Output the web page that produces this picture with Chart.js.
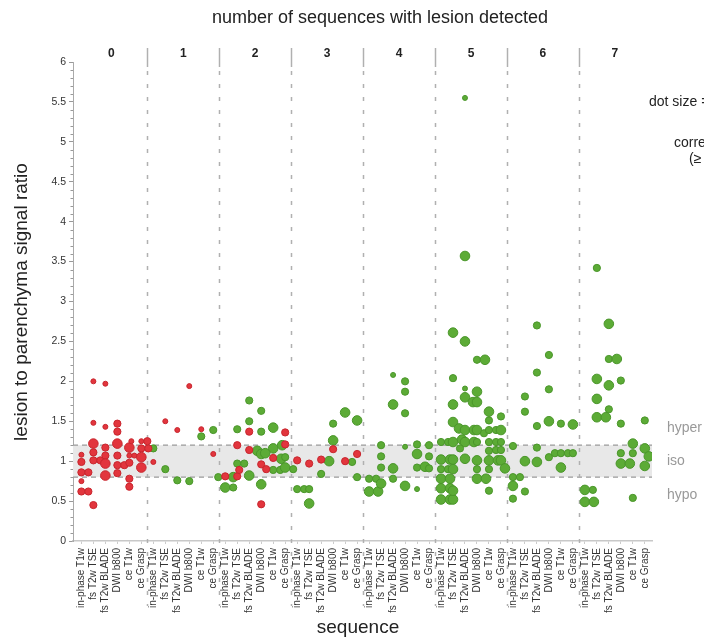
<!DOCTYPE html>
<html>
<head>
<meta charset="utf-8">
<script src="https://cdn.jsdelivr.net/npm/chart.js@4.4.1/dist/chart.umd.min.js"></script>
<style>
  html, body { margin: 0; padding: 0; background: #fff; }
  #wrap { width: 704px; height: 641px; }
</style>
</head>
<body>
<div id="wrap"><canvas id="c" width="704" height="641"></canvas></div>
<script>
// ---------- data ----------
const panels = ['0', '1', '2', '3', '4', '5', '6', '7'];
const sequences = ['in-phase T1w', 'fs T2w TSE', 'fs T2w BLADE', 'DWI b800', 'ce T1w', 'ce Grasp'];
const yTickValues = [0, 0.5, 1, 1.5, 2, 2.5, 3, 3.5, 4, 4.5, 5, 5.5, 6];
const isoBand = [0.8, 1.2];
const zoneLabels = ['hyper', 'iso', 'hypo'];
const zoneValues = [1.41, 1.0, 0.58];
const chartTitle = 'number of sequences with lesion detected';
const xTitle = 'sequence';
const yTitle = 'lesion to parenchyma signal ratio';
const legendLines = ['dot size = number of readers', 'correctly classified', '(\u2265 2 readers)'];

// [panel, sequence index, signal ratio, dot size class]
const redPoints = [
  [0,0,0.62,2],[0,0,0.62,2],[0,1,0.45,2],[0,0,1.08,1],[0,0,0.99,2],[0,0,0.86,2],[0,0,0.86,2],[0,0,0.75,1],
  [0,1,1.01,2],[0,1,1.01,2],[0,1,1.11,2],[0,1,1.22,3],[0,2,1.17,2],[0,2,1.07,2],[0,2,0.97,3],[0,2,0.82,3],
  [0,3,0.95,2],[0,3,0.95,2],[0,3,1.22,3],[0,3,0.85,2],[0,3,1.07,2],[0,4,1.07,1],[0,4,1.07,1],[0,4,1.17,3],
  [0,4,0.98,2],[0,4,0.78,2],[0,4,0.68,2],[0,5,1.16,2],[0,5,1.16,2],[0,5,1.05,3],[0,5,0.92,3],[0,4,1.25,1],
  [0,5,1.25,1],[0,5,1.25,2],[0,1,2.0,1],[0,2,1.97,1],[0,1,1.48,1],[0,2,1.43,1],[0,3,1.47,2],[0,3,1.37,2],
  [1,0,0.99,1],[1,1,1.5,1],[1,2,1.39,1],[1,3,1.94,1],[1,4,1.4,1],[1,5,1.09,1],
  [2,0,0.81,2],[2,1,0.81,2],[2,1,0.89,2],[2,1,1.2,2],[2,2,1.37,2],[2,2,1.14,2],[2,3,0.96,2],[2,3,0.9,2],
  [2,3,0.46,2],[2,4,1.04,2],[2,5,1.36,2],[2,5,1.21,2],
  [3,0,1.01,2],[3,1,0.97,2],[3,2,1.02,2],[3,3,1.15,2],[3,4,1.0,2],[3,5,1.09,2]
];
const greenPoints = [
  [1,0,1.16,2],[1,1,0.9,2],[1,2,0.76,2],[1,3,0.75,2],[1,4,1.31,2],[1,5,1.39,2],
  [2,0,0.8,3],[2,0,0.8,2],[2,0,0.67,3],[2,0,0.67,2],[2,1,0.97,2],[2,1,0.97,2],[2,1,1.4,2],[2,2,1.76,2],
  [2,2,1.5,2],[2,2,1.13,3],[2,2,0.82,3],[2,3,1.09,3],[2,3,1.63,2],[2,3,1.37,2],[2,3,0.71,3],[2,4,1.42,3],
  [2,4,1.16,3],[2,4,0.89,2],[2,4,0.89,2],[2,4,1.03,3],[2,4,1.2,3],[2,4,1.1,3],[2,5,1.05,2],[2,5,0.92,3],
  [2,5,0.9,2],
  [3,0,0.65,2],[3,0,0.65,2],[3,1,0.65,2],[3,1,0.47,3],[3,2,1.0,3],[3,2,0.84,2],[3,3,1.47,2],[3,3,1.26,3],
  [3,4,0.99,2],[3,4,1.61,3],[3,5,1.51,3],[3,5,0.8,2],
  [4,0,0.78,2],[4,0,0.78,2],[4,0,0.62,3],[4,0,0.62,3],[4,1,1.2,2],[4,1,1.06,2],[4,1,0.92,2],[4,1,0.72,3],
  [4,2,0.78,2],[4,2,0.91,3],[4,2,1.71,3],[4,2,2.08,1],[4,3,1.6,2],[4,3,1.87,2],[4,3,2.0,2],[4,3,1.18,1],
  [4,3,0.69,3],[4,4,1.21,2],[4,4,1.09,3],[4,4,0.92,2],[4,4,0.93,3],[4,4,0.65,1],[4,5,1.2,2],[4,5,1.06,2],
  [4,5,0.91,2],
  [5,2,5.55,1],[5,2,3.57,3],[5,1,2.61,3],[5,2,2.5,3],[5,3,2.27,2],[5,3,2.27,3],[5,1,2.04,2],[5,2,1.91,1],
  [5,3,1.87,3],[5,2,1.8,3],[5,2,1.74,3],[5,3,1.74,3],[5,1,1.71,3],[5,4,1.62,3],[5,4,1.51,2],[5,5,1.56,2],
  [5,1,1.49,3],[5,1,1.41,3],[5,2,1.39,3],[5,2,1.39,3],[5,3,1.39,3],[5,3,1.35,2],[5,4,1.39,2],[5,4,1.39,2],
  [5,5,1.39,3],[5,0,1.24,2],[5,0,1.24,2],[5,1,1.24,3],[5,1,1.27,3],[5,2,1.24,3],[5,2,1.24,3],[5,2,1.16,2],
  [5,3,1.24,2],[5,4,1.24,2],[5,4,1.24,2],[5,5,1.24,2],[5,0,1.02,3],[5,0,1.02,3],[5,1,1.02,3],[5,0,0.9,2],
  [5,0,0.9,2],[5,0,0.78,3],[5,0,0.78,3],[5,0,0.66,3],[5,0,0.66,3],[5,0,0.52,3],[5,0,0.52,3],[5,1,0.52,3],
  [5,1,0.63,3],[5,1,0.9,3],[5,2,1.03,3],[5,3,0.9,2],[5,3,0.78,3],[5,3,0.78,3],[5,4,1.13,2],[5,3,1.01,3],
  [5,4,1.01,3],[5,4,1.01,3],[5,5,1.01,3],[5,4,0.9,2],[5,4,0.63,2],[5,5,0.91,3],[5,4,1.14,2],[5,5,1.14,2],
  [6,0,1.19,2],[6,0,0.8,2],[6,0,0.8,2],[6,0,0.69,3],[6,0,0.53,2],[6,1,1.81,2],[6,1,1.62,2],[6,1,1.0,3],
  [6,1,0.62,2],[6,2,2.7,2],[6,2,2.11,2],[6,2,1.44,2],[6,2,1.17,2],[6,2,0.99,3],[6,3,2.33,2],[6,3,1.9,2],
  [6,3,1.5,3],[6,3,1.05,2],[6,3,1.1,2],[6,4,1.1,2],[6,4,1.1,2],[6,5,1.1,2],[6,4,0.92,3],[6,4,1.47,2],
  [6,5,1.46,3],
  [7,1,3.42,2],[7,2,2.72,3],[7,2,2.28,2],[7,2,2.28,3],[7,1,2.03,3],[7,2,1.95,3],[7,3,2.01,2],[7,1,1.78,3],
  [7,2,1.65,2],[7,1,1.55,3],[7,1,1.55,3],[7,3,1.47,2],[7,5,1.51,2],[7,0,0.64,3],[7,0,0.64,2],[7,0,0.49,3],
  [7,0,0.49,3],[7,4,0.54,2],[7,3,0.97,3],[7,3,0.97,3],[7,3,1.1,2],[7,4,1.1,2],[7,4,1.22,3],[7,5,1.16,3],
  [7,5,1.06,3],[7,5,0.94,3]
];

// ---------- styling / layout helpers ----------
const RADII = {1: 2.5, 2: 3.6, 3: 4.8};
const PX_PER_CAT = 12.0, PX_PER_UNIT = 80;
const FONT = '"Liberation Sans", Arial, sans-serif';

// deterministic dodge of overlapping dots within each sequence column
function layoutPoints(red, green) {
  const all = red.map(p => [...p, 'r']).concat(green.map(p => [...p, 'g']));
  const placed = {};
  const out = { r: [], g: [] };
  all.forEach(([p, s, v, size, col]) => {
    const key = p * 6 + s;
    const arr = placed[key] || (placed[key] = []);
    const r = RADII[size];
    let dx = 0;
    for (let k = 0; k < 80; k++) {
      const cand = (k % 2 === 1 ? 1 : -1) * Math.ceil(k / 2);
      const ok = arr.every(q => Math.hypot(cand - q.dx, (v - q.v) * PX_PER_UNIT) >= (r + q.r) * 0.9);
      if (ok) { dx = cand; break; }
    }
    arr.push({ dx, v, r });
    out[col].push({ x: key + dx / PX_PER_CAT, y: v, r });
  });
  return out;
}
const pts = layoutPoints(redPoints, greenPoints);

const decor = {
  id: 'decor',
  beforeDatasetsDraw(chart) {
    const { ctx, chartArea: ca, scales: { x, y } } = chart;
    ctx.save();
    // iso band
    const yHi = y.getPixelForValue(isoBand[1]), yLo = y.getPixelForValue(isoBand[0]);
    ctx.fillStyle = '#e8e8e8';
    ctx.fillRect(ca.left, yHi, ca.right - ca.left, yLo - yHi);
    ctx.strokeStyle = '#9a9a9a';
    ctx.lineWidth = 1.3;
    ctx.setLineDash([5, 4]);
    [yHi, yLo].forEach(py => { ctx.beginPath(); ctx.moveTo(ca.left, py); ctx.lineTo(ca.right, py); ctx.stroke(); });
    // panel separators
    ctx.strokeStyle = '#b0b0b0';
    ctx.lineWidth = 1.5;
    for (let k = 1; k < panels.length; k++) {
      const px = Math.round(x.getPixelForValue(6 * k - 0.5)) + 0.5;
      ctx.setLineDash([]);
      ctx.beginPath(); ctx.moveTo(px, 48); ctx.lineTo(px, 67); ctx.stroke();
      ctx.setLineDash([4, 9]);
      ctx.beginPath(); ctx.moveTo(px, 71); ctx.lineTo(px, 606); ctx.stroke();
    }
    ctx.setLineDash([]);
    // minor y ticks
    ctx.strokeStyle = '#999';
    ctx.lineWidth = 1;
    for (let i = 0; i <= 60; i++) {
      if (i % 5 === 0) continue;
      const py = Math.round(y.getPixelForValue(i / 10)) + 0.5;
      ctx.beginPath(); ctx.moveTo(ca.left - 2.5, py); ctx.lineTo(ca.left, py); ctx.stroke();
    }
    ctx.restore();
  },
  afterDraw(chart) {
    const { ctx, chartArea: ca, scales: { x, y } } = chart;
    ctx.save();
    ctx.textBaseline = 'middle';
    // main title
    ctx.fillStyle = '#222';
    ctx.font = '18px ' + FONT;
    ctx.textAlign = 'center';
    ctx.fillText(chartTitle, 380, 18);
    // panel numbers
    ctx.font = 'bold 12px ' + FONT;
    panels.forEach((p, k) => ctx.fillText(p, x.getPixelForValue(6 * k + 2.5), 54));
    // axis titles
    ctx.font = '19px ' + FONT;
    ctx.fillText(xTitle, 358, 628);
    ctx.save();
    ctx.translate(22, 302);
    ctx.rotate(-Math.PI / 2);
    ctx.fillText(yTitle, 0, 0);
    ctx.restore();
    // zone labels
    ctx.textAlign = 'left';
    ctx.fillStyle = '#999';
    ctx.font = '14px ' + FONT;
    zoneLabels.forEach((t, i) => ctx.fillText(t, ca.right + 15, y.getPixelForValue(zoneValues[i])));
    // legend text (runs off the right edge)
    ctx.fillStyle = '#222';
    ctx.font = '14px ' + FONT;
    ctx.fillText(legendLines[0], 649, 102);
    ctx.fillText(legendLines[1], 674, 143);
    ctx.fillText(legendLines[2], 689, 159);
    ctx.restore();
  }
};

new Chart(document.getElementById('c'), {
  type: 'scatter',
  data: {
    datasets: [
      { data: pts.r, backgroundColor: '#e2353d', borderColor: '#c8262e', borderWidth: 1,
        pointRadius: c => (c.raw ? c.raw.r : 3), pointHoverRadius: c => (c.raw ? c.raw.r : 3) },
      { data: pts.g, backgroundColor: '#5cab36', borderColor: '#4a962a', borderWidth: 1,
        pointRadius: c => (c.raw ? c.raw.r : 3), pointHoverRadius: c => (c.raw ? c.raw.r : 3) }
    ]
  },
  options: {
    responsive: false,
    animation: false,
    devicePixelRatio: 1,
    layout: { padding: { top: 62, right: 52, left: 0, bottom: 0 } },
    plugins: { legend: { display: false }, tooltip: { enabled: false } },
    scales: {
      x: {
        type: 'linear', min: -0.7, max: 47.6,
        afterBuildTicks: s => { s.ticks = Array.from({ length: panels.length * sequences.length }, (_, i) => ({ value: i })); },
        afterFit: s => { s.height = 100; },
        ticks: {
          autoSkip: false, minRotation: 90, maxRotation: 90, padding: 4,
          color: '#333', font: { size: 10, family: FONT },
          callback: v => sequences[Math.round(v) % sequences.length]
        },
        grid: { drawOnChartArea: false, drawTicks: true, tickLength: 3, color: '#ccc' },
        border: { color: '#c8c8c8', width: 1.5 }
      },
      y: {
        min: 0, max: 6,
        afterBuildTicks: s => { s.ticks = yTickValues.map(v => ({ value: v })); },
        afterFit: s => { s.width = 73; },
        ticks: {
          padding: 3, color: '#333', font: { size: 10.5, family: FONT },
          callback: v => String(+Number(v).toFixed(1))
        },
        grid: { drawOnChartArea: false, drawTicks: true, tickLength: 4, color: '#999' },
        border: { color: '#aaa', width: 1 }
      }
    }
  },
  plugins: [decor]
});
</script>
</body>
</html>
